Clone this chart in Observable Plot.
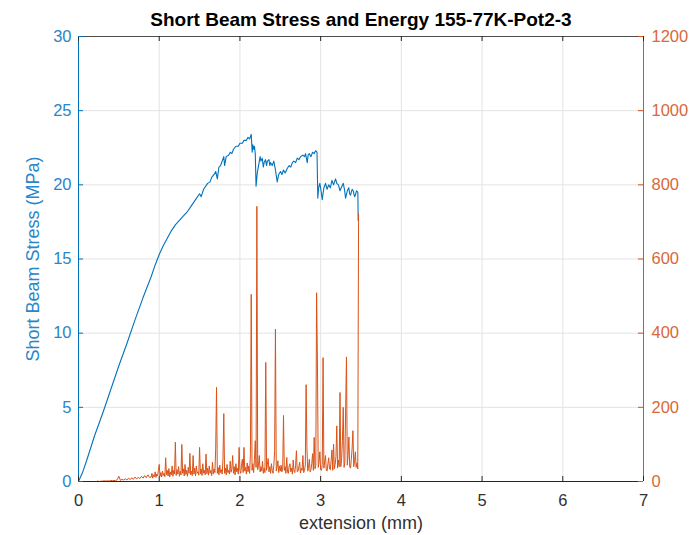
<!DOCTYPE html>
<html>
<head>
<meta charset="utf-8">
<script src="https://cdn.jsdelivr.net/npm/d3@7"></script>
<script src="https://cdn.jsdelivr.net/npm/@observablehq/plot@0.6"></script>
<style>
  html, body { margin: 0; padding: 0; background: #ffffff; }
  #chart svg { display: block; }
</style>
</head>
<body>
<div id="chart"></div>
<script>
// ---- data ----
const titleText = "Short Beam Stress and Energy 155-77K-Pot2-3";
const xLabel = "extension (mm)";
const yLabelLeft = "Short Beam Stress (MPa)";

const xTicks = [0, 1, 2, 3, 4, 5, 6, 7];
const stressTicks = [0, 5, 10, 15, 20, 25, 30];
const energyTicks = [0, 200, 400, 600, 800, 1000, 1200];

const stressExt = [0, 0.05, 0.1, 0.2, 0.3, 0.4, 0.5, 0.6, 0.7, 0.8, 0.9, 0.95, 1.0, 1.05, 1.1, 1.15, 1.2, 1.25, 1.3, 1.35, 1.4, 1.45, 1.5, 1.52, 1.55, 1.6, 1.63, 1.65, 1.68, 1.7, 1.72, 1.74, 1.76, 1.78, 1.8, 1.81, 1.83, 1.86, 1.88, 1.9, 1.92, 1.95, 1.98, 2.0, 2.03, 2.05, 2.08, 2.1, 2.12, 2.14,
  2.152, 2.16, 2.17, 2.18, 2.19, 2.2, 2.215, 2.234, 2.25, 2.26, 2.276, 2.29, 2.3, 2.317, 2.33, 2.34, 2.36, 2.37, 2.379, 2.4, 2.42, 2.44, 2.462, 2.48, 2.503, 2.52, 2.54, 2.56, 2.586, 2.61, 2.63, 2.65, 2.668, 2.69, 2.71, 2.73, 2.751, 2.78, 2.8, 2.813, 2.834, 2.845, 2.86, 2.88, 2.9, 2.92, 2.937, 2.955,
  2.965, 2.975, 2.99, 3.005, 3.02, 3.04, 3.061, 3.08, 3.1, 3.12, 3.14, 3.16, 3.185, 3.2, 3.22, 3.24, 3.255, 3.28, 3.295, 3.309, 3.33, 3.349, 3.36, 3.37, 3.39, 3.404, 3.42, 3.43, 3.445, 3.461, 3.465];
const stressVal = [0, 0.6, 1.4, 3.1, 4.6, 6.2, 7.8, 9.3, 10.9, 12.4, 13.8, 14.6, 15.3, 15.9, 16.4, 16.9, 17.3, 17.6, 17.9, 18.2, 18.6, 19.0, 19.4, 19.2, 19.7, 20.1, 20.2, 20.5, 20.7, 20.9, 20.4, 21.2, 21.3, 21.6, 21.9, 21.3, 21.9, 22.0, 22.2, 22.1, 22.4, 22.6, 22.6, 22.8, 22.8, 23.0, 23.0, 23.2, 23.1, 23.4,
  22.2, 22.7, 22.4, 22.6, 22.1, 19.9, 20.8, 21.4, 21.9, 21.6, 21.8, 21.2, 21.5, 21.7, 21.3, 21.6, 21.7, 21.3, 21.5, 21.3, 21.6, 21.0, 20.2, 20.7, 20.9, 20.7, 21.0, 20.8, 21.1, 21.3, 21.2, 21.5, 21.6, 21.5, 21.8, 21.7, 21.9, 22.0, 21.9, 22.1, 21.5, 22.0, 22.1, 21.9, 22.2, 22.1, 22.3, 22.2,
  19.1, 19.8, 20.1, 19.6, 19.0, 19.8, 20.1, 19.7, 20.0, 19.8, 20.3, 20.0, 20.4, 20.1, 20.0, 19.6, 19.8, 20.1, 19.7, 19.1, 19.6, 19.8, 19.4, 19.3, 19.7, 19.6, 19.2, 19.3, 19.6, 19.5, 17.6];

const energyExt = [
  0.20, 0.22, 0.24, 0.26, 0.28, 0.30, 0.32, 0.34, 0.36, 0.38, 0.40, 0.42, 0.44, 0.46, 0.48, 0.50, 0.52, 0.54, 0.56, 0.58,
  0.60, 0.62, 0.64, 0.66, 0.68, 0.70, 0.72, 0.74, 0.76, 0.78, 0.80, 0.82, 0.84, 0.86, 0.88,
  0.90, 0.91, 0.92, 0.93, 0.94, 0.95, 0.96, 0.97, 0.98, 0.99,
  1.00, 1.01, 1.02, 1.03, 1.04, 1.05, 1.06, 1.07, 1.08, 1.09,
  1.10, 1.11, 1.12, 1.13, 1.14, 1.15, 1.16, 1.17, 1.18, 1.19,
  1.20, 1.21, 1.22, 1.23, 1.24, 1.25, 1.26, 1.27, 1.28, 1.29,
  1.30, 1.31, 1.32, 1.33, 1.34, 1.35, 1.36, 1.37, 1.38, 1.39,
  1.40, 1.41, 1.42, 1.43, 1.44, 1.45, 1.46, 1.47, 1.48, 1.49,
  1.50, 1.51, 1.52, 1.53, 1.54, 1.55, 1.56, 1.57, 1.58, 1.59,
  1.60, 1.61, 1.62, 1.63, 1.64, 1.65, 1.66, 1.67, 1.68, 1.69,
  1.70, 1.71, 1.72, 1.73, 1.74, 1.75, 1.76, 1.77, 1.78, 1.79,
  1.80, 1.81, 1.82, 1.83, 1.84, 1.85, 1.86, 1.87, 1.88, 1.89,
  1.90, 1.91, 1.92, 1.93, 1.94, 1.95, 1.96, 1.97, 1.98, 1.99,
  2.00, 2.01, 2.02, 2.03, 2.04, 2.05, 2.06, 2.07, 2.08, 2.09,
  2.10, 2.11, 2.12, 2.13, 2.14, 2.15, 2.16, 2.17, 2.18, 2.19,
  2.20, 2.21, 2.22, 2.23, 2.24, 2.25, 2.26, 2.27, 2.28, 2.29,
  2.30, 2.31, 2.32, 2.33, 2.34, 2.35, 2.36, 2.37, 2.38, 2.39,
  2.40, 2.41, 2.42, 2.43, 2.44, 2.45, 2.46, 2.47, 2.48, 2.49,
  2.50, 2.51, 2.52, 2.53, 2.54, 2.55, 2.56, 2.57, 2.58, 2.59,
  2.60, 2.61, 2.62, 2.63, 2.64, 2.65, 2.66, 2.67, 2.68, 2.69,
  2.70, 2.71, 2.72, 2.73, 2.74, 2.75, 2.76, 2.77, 2.78, 2.79,
  2.80, 2.81, 2.82, 2.83, 2.84, 2.85, 2.86, 2.87, 2.88, 2.89,
  2.90, 2.91, 2.92, 2.93, 2.94, 2.95, 2.96, 2.97, 2.98, 2.99,
  3.00, 3.01, 3.02, 3.03, 3.04, 3.05, 3.06, 3.07, 3.08, 3.09,
  3.10, 3.11, 3.12, 3.13, 3.14, 3.15, 3.16, 3.17, 3.18, 3.19,
  3.20, 3.21, 3.22, 3.23, 3.24, 3.25, 3.26, 3.27, 3.28, 3.29,
  3.30, 3.31, 3.32, 3.33, 3.34, 3.35, 3.36, 3.37, 3.38, 3.39,
  3.40, 3.41, 3.42, 3.43, 3.44, 3.45, 3.46, 3.47];
const energyVal = [
  0, 0, 1, 0, 1, 1, 2, 1, 2, 1, 3, 2, 3, 2, 5, 14, 3, 6, 4, 7,
  4, 9, 5, 10, 6, 12, 7, 11, 8, 14, 9, 16, 10, 18, 11,
  12, 22, 9, 18, 13, 26, 11, 20, 15, 30,
  46, 14, 24, 12, 28, 16, 22, 13, 64, 18,
  30, 15, 35, 12, 26, 18, 42, 14, 30, 20,
  106, 16, 32, 20, 40, 14, 28, 18, 100, 22,
  34, 15, 46, 19, 30, 14, 38, 22, 76, 18,
  28, 16, 70, 20, 36, 15, 42, 22, 26, 17,
  92, 20, 34, 16, 48, 22, 30, 18, 74, 21,
  36, 17, 42, 22, 30, 16, 52, 20, 34, 24,
  90, 254, 22, 38, 18, 44, 24, 32, 20, 60,
  183, 22, 36, 18, 46, 24, 30, 20, 55, 25,
  34, 70, 22, 40, 18, 48, 26, 36, 20, 92,
  30, 22, 44, 60, 24, 92, 28, 38, 20, 50,
  26, 42, 22, 75, 505, 30, 48, 24, 60, 110,
  38, 742, 32, 44, 70, 26, 40, 28, 55, 22,
  36, 24, 321, 30, 46, 62, 26, 40, 22, 48,
  30, 22, 44, 83, 411, 28, 38, 56, 24, 42,
  28, 44, 26, 36, 178, 30, 40, 22, 65, 26,
  22, 42, 48, 26, 36, 20, 58, 28, 24, 44,
  83, 26, 28, 40, 52, 23, 36, 30, 70, 24,
  30, 44, 261, 92, 28, 38, 60, 26, 32, 48,
  75, 30, 119, 34, 44, 509, 325, 38, 52, 80,
  32, 30, 46, 334, 36, 54, 70, 30, 28, 48,
  64, 34, 32, 56, 85, 30, 101, 34, 46, 68,
  150, 36, 58, 40, 240, 40, 62, 110, 200, 38,
  52, 200, 336, 44, 70, 120, 40, 36, 60, 90,
  137, 40, 56, 80, 38, 50, 34, 721];

// ---- build ----
const ratio = energyTicks[energyTicks.length - 1] / stressTicks[stressTicks.length - 1];
const stress = stressExt.map((x, i) => ({x, y: stressVal[i]}));
const energy = energyExt.map((x, i) => ({x, y: energyVal[i] / ratio}));

const BLUE = "#0072BD";
const ORANGE = "#D95319";
const BLUE_TXT = "#2a86c8";
const ORANGE_TXT = "#d9683a";
const AX = "#262626";
const GRID = "#e3e3e3";
const FONT = '"Liberation Sans", Arial, Helvetica, sans-serif';

const W = 689, H = 535, ML = 78, MR = 46, MT = 36, MB = 54;
const PW = W - ML - MR, PH = H - MT - MB, TL = 5;

const chart = Plot.plot({
  width: W,
  height: H,
  marginLeft: ML,
  marginRight: MR,
  marginTop: MT,
  marginBottom: MB,
  style: {fontFamily: FONT, background: "#ffffff", overflow: "visible"},
  x: {domain: [xTicks[0], xTicks[xTicks.length - 1]]},
  y: {domain: [stressTicks[0], stressTicks[stressTicks.length - 1]]},
  marks: [
    Plot.gridX(xTicks, {stroke: GRID, strokeOpacity: 1}),
    Plot.gridY(stressTicks, {stroke: GRID, strokeOpacity: 1}),
    Plot.line(stress, {x: "x", y: "y", stroke: BLUE, strokeWidth: 1.1}),
    Plot.line(energy, {x: "x", y: "y", stroke: ORANGE, strokeWidth: 1}),
    // box
    Plot.ruleY([stressTicks[0]], {stroke: AX, strokeWidth: 1}),
    Plot.ruleY([stressTicks[stressTicks.length - 1]], {stroke: AX, strokeWidth: 1, strokeOpacity: 0.8}),
    Plot.ruleX([xTicks[0]], {stroke: BLUE, strokeWidth: 1}),
    Plot.ruleX([xTicks[xTicks.length - 1]], {stroke: ORANGE, strokeWidth: 1}),
    // inward ticks
    Plot.tickX(xTicks, {x: d => d, stroke: AX, insetTop: PH - TL}),
    Plot.tickX(xTicks, {x: d => d, stroke: AX, insetBottom: PH - TL}),
    Plot.tickY(stressTicks, {y: d => d, stroke: BLUE, insetRight: PW - TL}),
    Plot.tickY(stressTicks, {y: d => d, stroke: ORANGE, insetLeft: PW - TL}),
    // tick labels
    Plot.axisX(xTicks, {tickSize: 0, tickPadding: 13, fontSize: 16.5, color: "#303030", label: null}),
    Plot.axisY(stressTicks, {anchor: "left", tickSize: 0, tickPadding: 7, fontSize: 16.5, color: BLUE_TXT, label: null}),
    Plot.axisY(stressTicks, {anchor: "right", tickSize: 0, tickPadding: 8, fontSize: 16.5, color: ORANGE_TXT, label: null, tickFormat: d => String(d * ratio)}),
    // labels
    Plot.text([titleText], {text: d => d, frameAnchor: "top", dy: -17, lineAnchor: "middle", fontSize: 19, fontWeight: "bold", fill: "#000000"}),
    Plot.text([xLabel], {text: d => d, frameAnchor: "bottom", dy: 42, lineAnchor: "middle", fontSize: 18, fill: "#303030"}),
    Plot.text([yLabelLeft], {text: d => d, frameAnchor: "left", dx: -45, rotate: -90, textAnchor: "middle", lineAnchor: "middle", fontSize: 18, fill: BLUE_TXT})
  ]
});
document.getElementById("chart").appendChild(chart);
</script>
</body>
</html>
